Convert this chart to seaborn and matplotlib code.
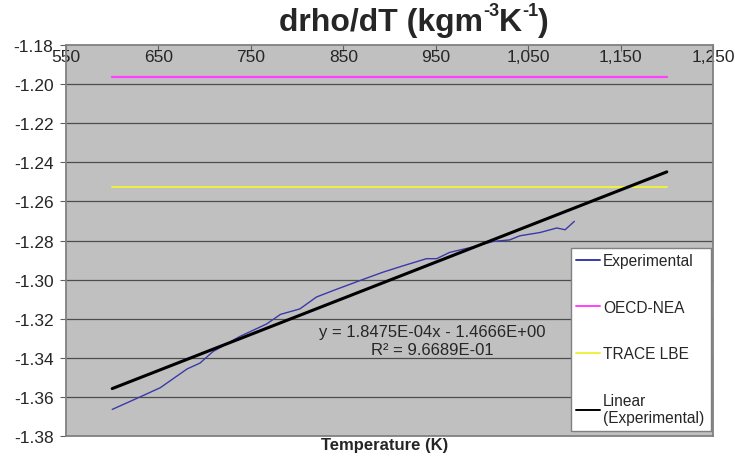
import numpy as np
import pandas as pd
import matplotlib
matplotlib.use('Agg')
import matplotlib.pyplot as plt
import seaborn as sns
from matplotlib.text import Annotation
from matplotlib.ticker import FuncFormatter, FixedLocator, MultipleLocator

# experimental drho/dT curve
exp_T = [600, 626, 652, 681, 695, 709, 738, 767, 782, 803, 821, 843, 872,
         893, 915, 940, 951, 965, 991, 1012, 1030, 1041, 1063, 1081, 1090, 1100]
exp_drho = [-1.3664, -1.3609, -1.3553, -1.3457, -1.3427, -1.3368, -1.3291,
            -1.3227, -1.3178, -1.3150, -1.3089, -1.3049, -1.2998, -1.2962,
            -1.2929, -1.2893, -1.2893, -1.2861, -1.2832, -1.2805, -1.2797,
            -1.2776, -1.2759, -1.2736, -1.2745, -1.2702]

# constant correlations
corr_T = [600, 1200]
oecd_drho = [-1.1965, -1.1965]
trace_drho = [-1.2525, -1.2525]

# Excel linear trendline of the experimental series
fit_slope = 1.8475e-04
fit_intercept = -1.4666
fit_T = [600, 1200]
fit_r2 = 0.96689

x_ticks = [550, 650, 750, 850, 950, 1050, 1150, 1250]

sns.set_style('white', {'axes.facecolor': '#c0c0c0'})
plt.rcParams['font.family'] = ['Liberation Sans', 'DejaVu Sans']
plt.rcParams['axes.unicode_minus'] = False

fig, ax = plt.subplots(figsize=(7.35, 4.64), dpi=100)
fig.subplots_adjust(left=66 / 735, right=713 / 735, top=1 - 46 / 464, bottom=1 - 437 / 464)

for y in np.arange(-1.36, -1.185, 0.02):
    ax.axhline(y, color='#4d4d4d', lw=0.9, zorder=1)

sns.lineplot(x=exp_T, y=exp_drho, ax=ax, color='#3a3aa8', lw=1.0, label='Experimental', zorder=3)
sns.lineplot(x=corr_T, y=oecd_drho, ax=ax, color='#ff40ff', lw=1.6, label='OECD-NEA', zorder=3)
sns.lineplot(x=corr_T, y=trace_drho, ax=ax, color='#f0f040', lw=1.4, label='TRACE LBE', zorder=3)
fit_y = [fit_slope * t + fit_intercept for t in fit_T]
sns.lineplot(x=fit_T, y=fit_y, ax=ax, color='black', lw=2.2, label='Linear\n(Experimental)', zorder=4)

ax.set_xlim(550, 1250)
ax.set_ylim(-1.38, -1.18)
ax.xaxis.set_major_locator(FixedLocator(x_ticks))
ax.yaxis.set_major_locator(MultipleLocator(0.02))
ax.xaxis.set_major_formatter(FuncFormatter(lambda v, p: f'{v:,.0f}'))
ax.yaxis.set_major_formatter(FuncFormatter(lambda v, p: f'{v:.2f}'))
ax.xaxis.tick_top()
ax.tick_params(axis='x', top=True, bottom=False, labeltop=True, labelbottom=False,
               direction='in', length=4, pad=-14, labelsize=12.5, color='#606060')
ax.tick_params(axis='y', left=True, direction='out', length=4, pad=5,
               labelsize=12.5, color='#606060')
ax.set_xlabel('')
ax.set_ylabel('')
for s in ax.spines.values():
    s.set_color('#808080')
    s.set_linewidth(1.3)

ax.text(946, -1.3314, f'y = {fit_slope:.4E}x - {abs(fit_intercept):.4E}\nR\u00b2 = {fit_r2:.4E}',
        ha='center', va='center', fontsize=12, linespacing=1.25, zorder=5)

leg = ax.legend(loc='lower left', bbox_to_anchor=(0.7805, 0.013, 0.2165, 0.476),
                mode='expand', fontsize=11.2, frameon=True, fancybox=False,
                handlelength=1.5, handletextpad=0.2, labelspacing=2.03,
                borderpad=0.35, borderaxespad=0)
leg.get_frame().set_edgecolor('#808080')
leg.get_frame().set_linewidth(1.0)
leg.get_frame().set_facecolor('white')
leg.get_frame().set_alpha(1)
for h in leg.get_lines():
    h.set_linewidth(1.4)

# title built from pieces so the superscripts stay small
big, small = 23, 13
t1 = fig.text(279 / 735, 1 - 23 / 464, 'drho/dT (kgm', ha='left', va='center',
              fontsize=big, fontweight='bold')
s1 = fig.add_artist(Annotation('-3', xy=(1.0, 0.6), xycoords=t1,
                               va='bottom', ha='left', fontsize=small, fontweight='bold'))
k1 = fig.add_artist(Annotation('K', xy=(1.0, 0.0), xycoords=(s1, t1),
                               va='bottom', ha='left', fontsize=big, fontweight='bold'))
s2 = fig.add_artist(Annotation('-1', xy=(1.0, 0.6), xycoords=(k1, t1),
                               va='bottom', ha='left', fontsize=small, fontweight='bold'))
fig.add_artist(Annotation(')', xy=(1.0, 0.0), xycoords=(s2, t1),
                          va='bottom', ha='left', fontsize=big, fontweight='bold'))

fig.text(385 / 735, 1 - 446 / 464, 'Temperature (K)', ha='center', va='center',
         fontsize=12, fontweight='bold')

fig.savefig('out.png', dpi=100)
